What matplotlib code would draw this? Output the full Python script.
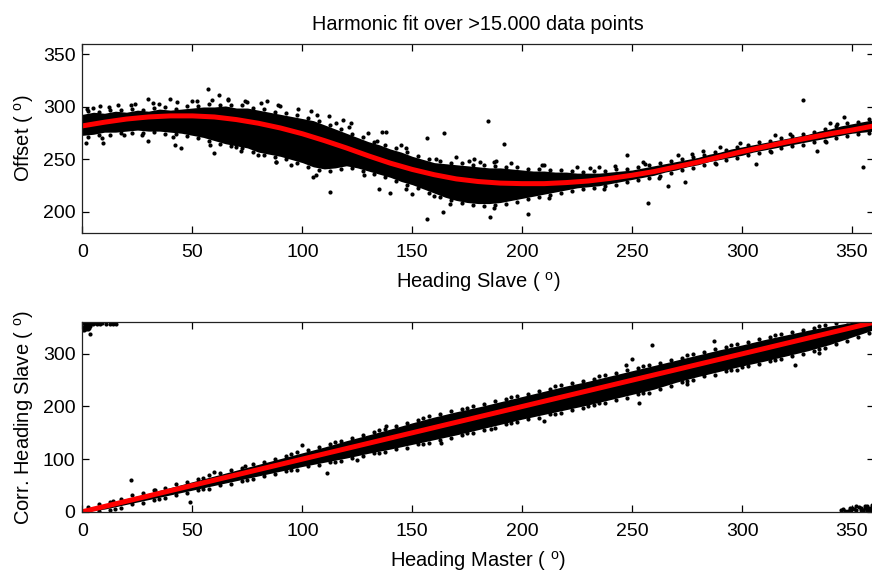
import matplotlib.pyplot as plt

plt.rcParams['font.family'] = ['Liberation Sans', 'DejaVu Sans']
plt.rcParams['mathtext.fontset'] = 'custom'
plt.rcParams['mathtext.rm'] = 'Liberation Sans'
plt.rcParams['mathtext.it'] = 'Liberation Sans:italic'

# ---- top panel: offset vs heading slave ----
fit_heading = [0, 10, 20, 30, 40, 50, 60, 70, 80, 90, 100, 110, 120, 130, 140,
               150, 160, 170, 180, 190, 200, 210, 220, 230, 240, 250, 260, 270,
               280, 290, 300, 310, 320, 330, 340, 350, 360]
fit_offset = [282, 285.5, 288.5, 290.5, 291.5, 291.5, 290.5, 288, 284.5, 280,
              274.5, 268, 261, 253.5, 246.5, 240.5, 235.5, 231.5, 229, 227.5,
              227, 227, 228, 229.5, 232, 235, 238.5, 243, 247.5, 252.5, 257.5,
              262, 266.5, 270.5, 274.5, 278, 282]

# dense core of the cloud
core_heading = [0, 5, 10, 15, 20, 25, 30, 35, 40, 45, 50, 55, 60, 65, 70, 75,
                80, 85, 90, 95, 100, 105, 110, 115, 120, 125, 130, 135, 140,
                145, 150, 155, 160, 165, 170, 175, 180, 185, 190, 195, 200,
                205, 210, 215, 220, 225, 230, 235, 240, 245, 250, 255, 260,
                265, 270, 275, 280, 285, 290, 295, 300, 305, 310, 315, 320,
                325, 330, 335, 340, 345, 350, 355, 360]
core_upper = [293, 295, 294, 296, 295, 297, 296, 298, 297, 298, 299, 300, 300,
              301, 299, 299, 297, 295, 293, 291, 289, 287, 283, 279, 275, 271,
              267, 264, 260, 257, 253, 250, 247, 246, 245, 244, 243, 242, 242,
              241, 240, 239, 239, 238, 238, 237, 237, 237, 238, 239, 240, 242,
              244, 246, 248, 250, 252, 255, 257, 260, 262, 264, 266, 268, 270,
              272, 274, 277, 279, 282, 284, 286, 288]
core_lower = [273, 274, 276, 276, 277, 278, 277, 277, 276, 275, 273, 271, 268,
              265, 263, 261, 257, 255, 253, 250, 247, 243, 241, 242, 244, 242,
              239, 236, 233, 229, 226, 222, 218, 214, 211, 209, 208, 208, 209,
              211, 213, 215, 217, 219, 221, 223, 224, 225, 227, 229, 231, 233,
              235, 238, 240, 243, 245, 248, 250, 252, 254, 257, 259, 261, 263,
              265, 267, 269, 271, 273, 275, 276, 277]

# points hugging the edges of the core
rim_heading = [2.5, 7.5, 12.5, 17.5, 22.5, 27.5, 32.5, 37.5, 42.5, 47.5, 52.5,
               57.5, 62.5, 67.5, 72.5, 77.5, 82.5, 87.5, 92.5, 97.5, 102.5,
               107.5, 112.5, 117.5, 122.5, 127.5, 132.5, 137.5, 142.5, 147.5,
               152.5, 157.5, 162.5, 167.5, 172.5, 177.5, 182.5, 187.5, 192.5,
               197.5, 202.5, 207.5, 212.5, 217.5, 222.5, 227.5, 232.5, 237.5,
               242.5, 247.5, 252.5, 257.5, 262.5, 267.5, 272.5, 277.5, 282.5,
               287.5, 292.5, 297.5, 302.5, 307.5, 312.5, 317.5, 322.5, 327.5,
               332.5, 337.5, 342.5, 347.5, 352.5, 357.5]
rim_upper = [296, 295.5, 297, 297, 298.5, 297.5, 299, 299.5, 298.5, 301,
             300.5, 302.5, 301.5, 302, 301.5, 299, 298, 295.5, 294, 292.5,
             289.5, 287, 282.5, 279, 274.5, 271.5, 267, 264, 260.5, 257.5,
             253.5, 250, 248.5, 247, 246.5, 245, 244.5, 243.5, 243, 242.5,
             241, 241, 240, 240, 239, 238.5, 239, 239, 240.5, 241, 243, 244.5,
             246.5, 248.5, 250, 252.5, 254.5, 257, 259.5, 262, 264, 266.5, 268,
             270, 272.5, 274, 276.5, 279.5, 281.5, 284.5, 286, 289]
rim_lower = [271.5, 273, 273.5, 275, 275.5, 275, 276, 274.5, 274, 272, 270.5,
             268, 265, 262.5, 260.5, 257, 254.5, 252, 250, 246.5, 243, 240,
             239.5, 241, 241.5, 239, 236, 233, 229.5, 226, 222.5, 218.5, 214.5,
             211, 208.5, 207, 206, 206.5, 208, 209.5, 212, 214, 216, 218, 220,
             221.5, 223, 224.5, 226, 228.5, 230, 232.5, 234.5, 237, 240, 242,
             244.5, 247, 249.5, 251.5, 254, 256.5, 258, 260.5, 262.5, 264,
             266.5, 268, 270.5, 272.5, 274, 275]

# looser points just outside the core
loose_heading = [8, 16, 24, 32, 43, 52, 59, 66, 74, 81, 89, 104, 112, 121, 134,
                 147, 161, 176, 187, 209, 231, 256, 277, 299, 322, 343,
                 9, 27, 41, 58, 72, 88, 106, 128, 147, 167, 187, 212, 237, 262,
                 288, 313, 338]
loose_offset = [301, 302, 303, 304, 305, 306, 307, 308, 306, 304, 302, 296,
                291, 281, 268, 261, 250, 249, 248, 245, 242, 246, 255, 266,
                274, 284,
                270, 273, 271, 264, 258, 248, 235, 235, 222, 208, 204, 213, 222,
                232, 246, 257, 267]

# isolated outliers
out_heading = [57, 30, 40, 62, 84, 9.5, 1.5, 42, 45, 60, 80, 70, 30, 19,
               106.5, 118.5, 115.5, 112.6, 105, 130, 136, 138, 156.5, 164.4,
               135, 140, 156.5, 150, 160, 164, 184.3, 191.9, 247.8, 185.3,
               202.5, 257, 188, 181, 327.6, 354.9, 334, 306.3, 346.4, 271,
               274, 266.4, 12, 22, 35, 50, 66, 75, 90, 98, 122, 145, 170, 178,
               195, 210, 225, 235, 242, 255, 282, 290, 315, 340, 2, 5, 88, 95]
out_offset = [317, 307.7, 308, 311, 306, 266, 266, 263.6, 261, 256.6, 254, 262,
              268, 273, 292, 287.5, 285, 218.7, 233.5, 275.6, 276, 276, 270,
              275, 222, 218.5, 193, 217, 215, 200, 286.2, 264.6, 254.4, 195.6,
              198.5, 208.4, 249, 248, 306.8, 242.8, 257.9, 245.4, 290.4, 254,
              228.3, 225, 300, 302, 303, 306, 307, 305, 301, 298, 285, 264,
              252, 250, 247, 245, 243, 243, 244, 248, 258, 262, 273, 285,
              298, 299, 248, 245]

# ---- bottom panel: corrected heading slave vs heading master ----
line_master = [0, 360]
line_corr = [0, 360]

band_master = [0, 10, 20, 30, 40, 50, 60, 70, 80, 90, 100, 110, 120, 130, 140,
               150, 160, 170, 180, 190, 200, 210, 220, 230, 240, 250, 260, 270,
               280, 290, 300, 310, 320, 330, 340, 350, 360]
band_upper = [4, 14, 25, 35, 46, 57, 68, 79, 90, 101, 112, 123, 135, 146, 157,
              169, 180, 190, 199, 209, 219, 229, 239, 248, 258, 268, 278, 288,
              298, 308, 317, 327, 336, 345, 353, 360, 364]
band_lower = [0, 5, 14, 23, 32, 41, 50, 59, 68, 77, 86, 94, 102, 111, 119,
              128, 137, 146, 156, 166, 176, 185, 194, 203, 213, 223, 233, 246,
              257, 267, 277, 286, 296, 306, 318, 332, 346]

rim_master = rim_heading
rim_corr_up = [9, 15, 19, 25, 31, 35, 41, 45, 52, 57, 62, 69, 73, 80, 84, 91,
               95, 101, 106, 113, 117, 123, 129, 134, 141, 146, 152, 157, 163,
               169, 174, 181, 185, 191, 195, 200, 204, 210, 214, 220, 224, 230,
               234, 240, 244, 249, 253, 259, 263, 269, 273, 279, 283, 289, 293,
               299, 303, 309, 313, 318, 322, 328, 332, 337, 341, 346, 350, 355,
               358, 362, 363, 365]
rim_corr_low = [0, 1, 4, 8, 14, 17, 23, 26, 32, 35, 41, 44, 50, 53, 59, 62, 68,
                71, 77, 80, 86, 88, 94, 96, 102, 105, 111, 113, 119, 122, 128,
                131, 137, 140, 146, 150, 156, 160, 166, 170, 176, 179, 185, 188,
                194, 197, 203, 206, 213, 216, 223, 226, 234, 238, 246, 250, 257,
                260, 267, 270, 277, 280, 286, 290, 296, 300, 306, 311, 319, 324,
                333, 339]

loose_master = [14, 33, 55, 74, 95, 115, 135, 155, 175, 195, 215, 235, 255,
                275, 295, 315, 335,
                15, 35, 55, 75, 95, 115, 135, 155, 175, 195, 215, 235, 255, 275,
                295, 315, 335]
loose_corr = [21, 41, 65, 86, 109, 132, 155, 178, 198, 218, 238, 257, 277, 297,
              317, 336, 353,
              6, 25, 43, 61, 79, 95, 112, 129, 149, 168, 186, 206, 225, 249,
              269, 289, 310]

pts_master = [22, 49, 3.4, 100, 111, 138, 163, 259, 250, 253, 247, 186, 287,
              324, 275, 60, 125, 210, 230, 300, 335,
              0.5, 1, 1.5, 2, 2.5, 3, 1, 3.5, 4.9, 7.9, 10.9, 12.4, 15.4,
              0, 0.5, 1, 1.5, 2, 2.5, 0.3, 1.2, 2.8, 3.2, 0.8, 2.2, 5.5, 6.5,
              9, 14,
              347, 349, 351, 353, 355, 356, 357, 358, 359, 359, 357, 354,
              345, 346, 348, 350, 352, 354, 355, 356, 358, 359, 360, 357,
              360, 352, 349]
pts_corr = [60, 18, 337, 127, 74, 163, 131, 317, 290, 207, 278, 157, 325, 279,
            243, 76, 98, 172, 200, 275, 302,
            352, 356, 348, 358, 354, 350, 360, 356, 357, 357, 356, 356, 356,
            345, 350, 353, 357, 352, 347, 358, 349, 359, 353, 346, 355, 358,
            356, 358, 357,
            2, 4, 5, 9, 4, 7, 2, 8, 5, 12, 11, 3,
            3, 6, 2, 7, 3, 8, 1, 10, 3, 7, 2, 5, 10, 10, 8]

fig = plt.figure(figsize=(8.72, 5.74), dpi=100)
ax1 = fig.add_axes([0.0946, 0.5941, 0.9077, 0.3293])
ax2 = fig.add_axes([0.0946, 0.1085, 0.9077, 0.3300])

dot = dict(s=9, c='k', lw=0)

ax1.fill_between(core_heading, core_lower, core_upper, color='k', lw=0)
ax1.scatter(rim_heading, rim_upper, **dot)
ax1.scatter(rim_heading, rim_lower, **dot)
ax1.scatter(loose_heading, loose_offset, **dot)
ax1.scatter(out_heading, out_offset, **dot)
ax1.plot(fit_heading, fit_offset, color='red', lw=3.6)
ax1.set_xlim(0, 360)
ax1.set_ylim(180, 360)
ax1.set_yticks([200, 250, 300, 350])
ax1.set_title('Harmonic fit over >15.000 data points', fontsize=14.3, pad=10)
ax1.set_xlabel(r'Heading Slave ( $^{\mathrm{o}}$)', fontsize=14.5, labelpad=6.5)
ax1.set_ylabel(r'Offset ( $^{\mathrm{o}}$)', fontsize=14.5, labelpad=5)

ax2.fill_between(band_master, band_lower, band_upper, color='k', lw=0)
ax2.scatter(rim_master, rim_corr_up, **dot)
ax2.scatter(rim_master, rim_corr_low, **dot)
ax2.scatter(loose_master, loose_corr, **dot)
ax2.scatter(pts_master, pts_corr, **dot)
ax2.plot(line_master, line_corr, color='red', lw=3.6)
ax2.set_xlim(0, 360)
ax2.set_ylim(0, 360)
ax2.set_yticks([0, 100, 200, 300])
ax2.set_xlabel(r'Heading Master ( $^{\mathrm{o}}$)', fontsize=14.5,
               labelpad=6.5)
ax2.set_ylabel(r'Corr. Heading Slave ( $^{\mathrm{o}}$)', fontsize=14.5,
               labelpad=5)

for ax in (ax1, ax2):
    ax.set_xticks([0, 50, 100, 150, 200, 250, 300, 350])
    ax.tick_params(direction='in', length=5, width=0.9, labelsize=14,
                   top=True, right=True, pad=8)
    ax.tick_params(axis='y', pad=5)
    for sp in ax.spines.values():
        sp.set_linewidth(0.9)
        sp.set_color('#222222')

fig.savefig('out.png', dpi=100)
